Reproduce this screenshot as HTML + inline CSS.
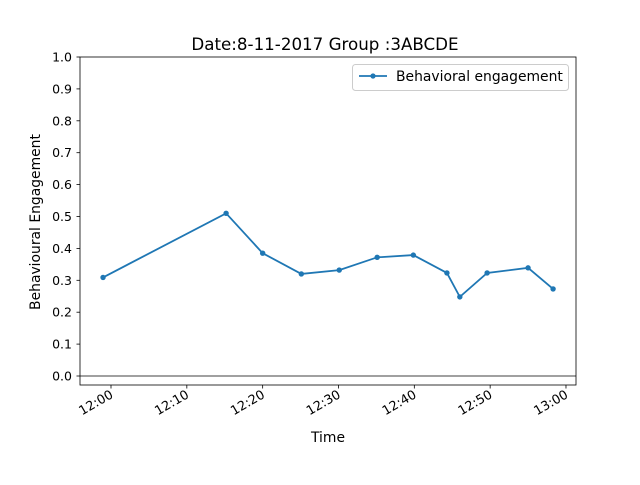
<!DOCTYPE html>
<html><head><meta charset="utf-8"><style>
body{margin:0;background:#fff;}
svg text{font-family:"DejaVu Sans","Liberation Sans",sans-serif;fill:#000;}
</style></head><body>
<svg id="chart" width="640" height="480">
<rect width="640" height="480" fill="#fff"/>
<text x="325" y="50" font-size="16.7" text-anchor="middle">Date:8-11-2017 Group :3ABCDE</text>
<g id="yticks"></g><g id="xticks"></g>
<line x1="80" x2="576" y1="376" y2="376" stroke="#000" stroke-width="0.8"/>
<g id="series"></g>
<rect x="80" y="57" width="496" height="328" fill="none" stroke="#000" stroke-width="0.8"/>
<text x="328" y="442" font-size="13.9" text-anchor="middle">Time</text>
<text transform="translate(40,222) rotate(-90)" font-size="13.9" text-anchor="middle">Behavioural Engagement</text>
<g>
<rect x="352.5" y="64.5" width="216" height="26" rx="3" fill="#fff" stroke="#ccc"/>
<line x1="359" x2="387" y1="76" y2="76" stroke="#1f77b4" stroke-width="1.8"/>
<circle cx="373" cy="76" r="2.6" fill="#1f77b4"/>
<text x="396" y="81" font-size="13.9">Behavioral engagement</text>
</g>
</svg>
<script>
const times=[-1.05,15.18,20.0,25.1,30.1,35.1,39.87,44.3,46.0,49.6,55.0,58.3];
const values=[0.309,0.510,0.385,0.320,0.332,0.372,0.379,0.323,0.248,0.323,0.339,0.273];
const yTicks=[0,0.1,0.2,0.3,0.4,0.5,0.6,0.7,0.8,0.9,1.0];
const xTickMins=[0,10,20,30,40,50,60];
const xTickLabels=["12:00","12:10","12:20","12:30","12:40","12:50","13:00"];
const NS="http://www.w3.org/2000/svg";
const X=m=>111+m*7.583;
const Y=v=>376-v*319;
function mk(t,a,p){const e=document.createElementNS(NS,t);for(const k in a)e.setAttribute(k,a[k]);p.appendChild(e);return e;}
const yg=document.getElementById('yticks');
yTicks.forEach(v=>{
 const l=mk('line',{x1:76.5,x2:80,y1:Y(v),y2:Y(v),stroke:'#000','stroke-width':0.8},yg);
 
 
 const t=mk('text',{x:72,y:Y(v)+4.5,'font-size':12.5,'text-anchor':'end'},yg);
 t.textContent=v.toFixed(1);
 
 
});
const xg=document.getElementById('xticks');
xTickMins.forEach((m,i)=>{
 const x=X(m);
 const l=mk('line',{x1:x,x2:x,y1:385,y2:388.5,stroke:'#000','stroke-width':0.8},xg);
 
 
 const t=mk('text',{transform:`translate(${x+3},${397}) rotate(-30)`,'font-size':12.8,'text-anchor':'end'},xg);
 t.textContent=xTickLabels[i];
 
 
});
const sg=document.getElementById('series');
const pl=mk('polyline',{points:times.map((m,i)=>X(m)+','+Y(values[i])).join(' '),fill:'none',stroke:'#1f77b4','stroke-width':1.8},sg);


times.forEach((m,i)=>{
 const c=mk('circle',{cx:X(m),cy:Y(values[i]),r:2.7,fill:'#1f77b4'},sg);
 
 
});
</script>
</body></html>
